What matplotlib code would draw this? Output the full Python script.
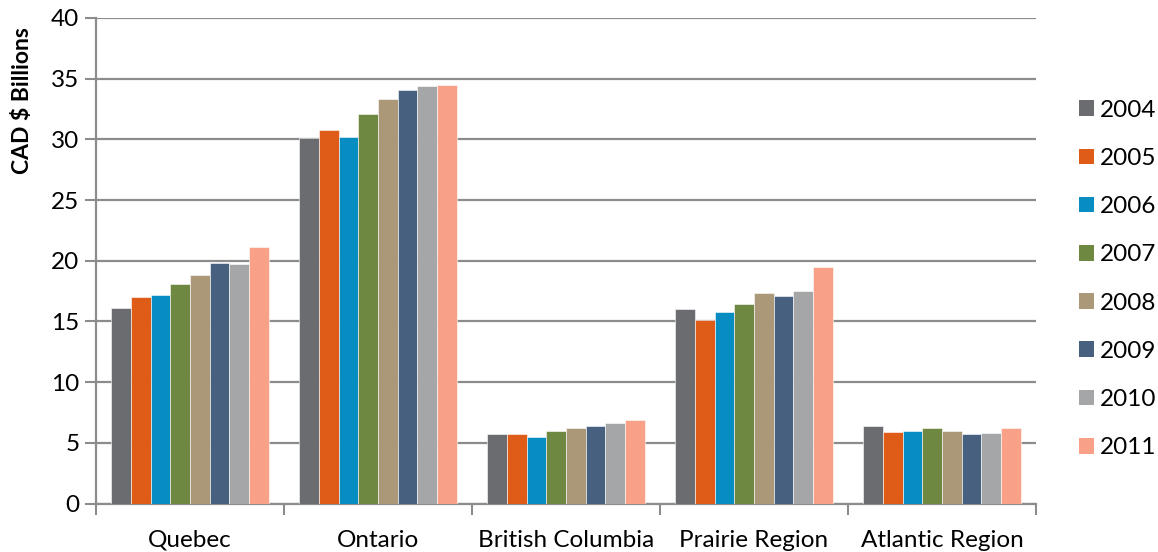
import matplotlib
matplotlib.use("Agg")
import matplotlib.pyplot as plt
import numpy as np
from matplotlib.patches import Patch

regions = ["Quebec", "Ontario", "British Columbia", "Prairie Region", "Atlantic Region"]
years = ["2004", "2005", "2006", "2007", "2008", "2009", "2010", "2011"]
v2004 = [16.1, 30.1, 5.7, 16.0, 6.4]
v2005 = [17.0, 30.8, 5.7, 15.1, 5.9]
v2006 = [17.2, 30.2, 5.5, 15.8, 6.0]
v2007 = [18.05, 32.1, 6.0, 16.45, 6.2]
v2008 = [18.85, 33.3, 6.2, 17.35, 6.0]
v2009 = [19.8, 34.1, 6.4, 17.1, 5.7]
v2010 = [19.75, 34.4, 6.6, 17.5, 5.8]
v2011 = [21.1, 34.5, 6.9, 19.5, 6.25]
series = [v2004, v2005, v2006, v2007, v2008, v2009, v2010, v2011]
colors = ["#6B6C70", "#DE5C17", "#078DC1", "#6E8741", "#AB9878", "#47607F", "#A5A6A8", "#F9A088"]
yticks = [0, 5, 10, 15, 20, 25, 30, 35, 40]

plt.rcParams['font.family'] = ['Lato', 'DejaVu Sans']

fig = plt.figure(figsize=(11.58, 5.52), dpi=100)
ax = fig.add_axes([96/1158, 1 - 503.5/552, 940/1158, (503.5-18)/552])

n = len(series)
bw = 0.84 / n
x = np.arange(len(regions))
for i, (vals, c) in enumerate(zip(series, colors)):
    ax.bar(x - 0.42 + bw*(i+0.5), vals, width=bw, color=c, edgecolor="white", linewidth=0.4, zorder=3)

ax.set_xlim(-0.5, len(regions)-0.5)
ax.set_ylim(0, 40)
ax.set_yticks(yticks)
ax.set_yticklabels([str(t) for t in yticks], fontsize=17.5)
ax.yaxis.grid(True, color="#8C8C8C", linewidth=1.6, zorder=0)
ax.set_axisbelow(True)
ax.set_xticks(np.arange(len(regions)+1) - 0.5)
ax.set_xticklabels([])
ax.set_xticks(x, minor=True)
ax.set_xticklabels(regions, minor=True, fontsize=17.5)
ax.tick_params(axis="x", which="minor", length=0, pad=19)
ax.tick_params(axis="x", which="major", length=8, width=1.5, color="#8C8C8C", direction="out")
ax.tick_params(axis="y", length=8, width=1.5, color="#8C8C8C", direction="out", pad=4)
for s in ["top", "right"]:
    ax.spines[s].set_visible(False)
for s in ["left", "bottom"]:
    ax.spines[s].set_color("#8C8C8C")
    ax.spines[s].set_linewidth(1.6)

ax.set_ylabel("CAD $ Billions", fontsize=16.5, fontweight="bold")
ax.yaxis.set_label_coords(-0.067, 0.829)

handles = [Patch(facecolor=c, edgecolor="none") for c in colors]
fig.legend(handles, years, loc="center left", bbox_to_anchor=(1079/1158, 1 - 279/552),
           frameon=False, fontsize=17.5, handlelength=0.62, handleheight=0.62,
           handletextpad=0.25, labelspacing=1.12, borderaxespad=0, borderpad=0)

fig.savefig("out.png", dpi=100)
